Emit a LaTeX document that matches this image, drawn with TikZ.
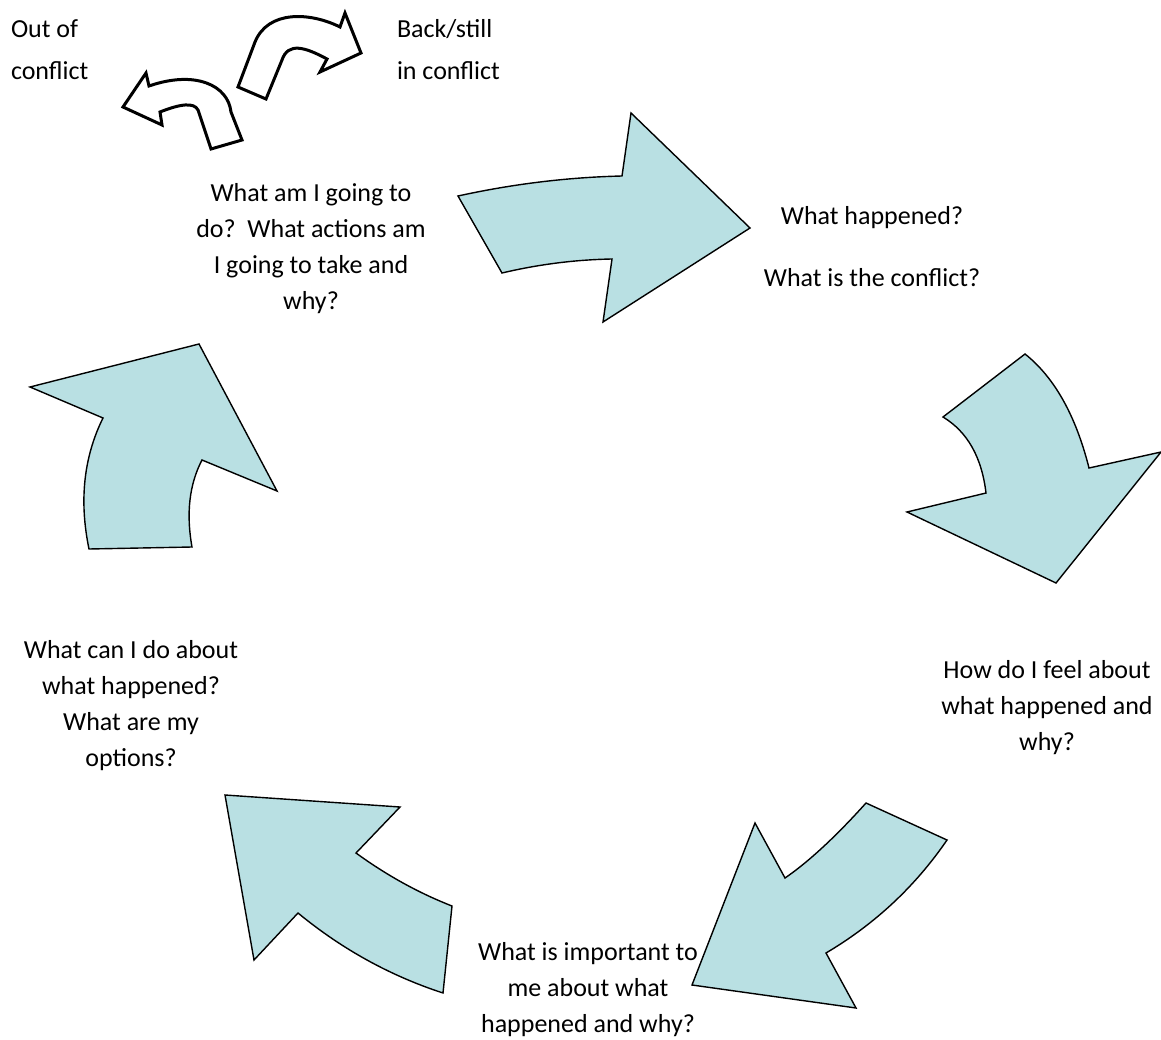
\documentclass[tikz,border=0pt]{standalone}
\usepackage{fontspec}
\setmainfont{Carlito}
\definecolor{arrowfill}{HTML}{B9E0E3}
\begin{document}
\begin{tikzpicture}[x=1pt,y=-1pt,
  cyclearrow/.style={fill=arrowfill,draw=black,line width=1.4pt,line join=miter},
  brancharrow/.style={fill=white,draw=black,line width=3pt,line join=miter},
  lbl/.style={inner sep=0pt,outer sep=0pt,font=\fontsize{26}{36}\selectfont,align=center,anchor=base}]
\useasboundingbox (0,0) rectangle (1161,1040);
% cycle arrows
\draw[cyclearrow] (458,196) .. controls (512.7,184) and (567.3,177.3) .. (622,176) -- (631,113) -- (750,228) -- (603,322) -- (612,259) .. controls (575.3,259.7) and (538.7,264.3) .. (502,273) -- cycle;
\draw[cyclearrow] (1025,354) -- (943,417) .. controls (967.3,431.7) and (981.7,457) .. (986,493) -- (907,512) -- (1056,583) -- (1161,452) -- (1089,468) .. controls (1075.7,415.3) and (1054.3,377.3) .. (1025,354) -- cycle;
\draw[cyclearrow] (866,803) -- (947,840) .. controls (915.3,886.3) and (875,924) .. (826,953) -- (856,1008) -- (692,985) -- (755,823) -- (785,878) .. controls (808.7,861.7) and (835.7,836.7) .. (866,803) -- cycle;
\draw[cyclearrow] (225,795) -- (400,807) -- (356,853) .. controls (386.7,875.3) and (418.7,893) .. (452,906) -- (443,993) .. controls (390,975.7) and (341.7,949) .. (298,913) -- (254,960) -- cycle;
\draw[cyclearrow] (199,344) -- (277,491) -- (202,460) .. controls (189.3,484.3) and (186,513.3) .. (192,547) -- (89,549) .. controls (79,500.7) and (83.7,457) .. (103,418) -- (30,387) -- cycle;
% branch arrows
\draw[brancharrow] (242,140) -- (211,149) -- (198,110) .. controls (194,102) and (180,104) .. (160,112) -- (162,125) -- (123,107) -- (146,73) -- (149,86) .. controls (195,70) and (228,85) .. (231,112) -- cycle;
\draw[brancharrow] (238,87) -- (255,42) .. controls (268,10) and (310,12) .. (340,27) -- (345,13) -- (361,53) -- (320,72) -- (327,59) .. controls (305,47) and (288,42) .. (282,60) -- (266,99) -- cycle;
% labels (anchor base = baseline of the last line)
\node[lbl,anchor=base west,align=left,font=\fontsize{26}{42}\selectfont] (out) at (11,80) {Out of\\conflict};
\node[lbl,anchor=base west,align=left,font=\fontsize{26}{42}\selectfont] (back) at (397,80) {Back/still\\in conflict};
\node[lbl] (todo) at (311,310) {What am I going to\\do?\ \ What actions am\\I going to take and\\why?};
\node[lbl] (happened) at (872,287) {What happened?\\[26pt]What is the conflict?};
\node[lbl] (feel) at (1047,750) {How do I feel about\\what happened and\\why?};
\node[lbl] (important) at (588,1032) {What is important to\\me about what\\happened and why?};
\node[lbl] (options) at (131,766) {What can I do about\\what happened?\\What are my\\options?};
\end{tikzpicture}
\end{document}
